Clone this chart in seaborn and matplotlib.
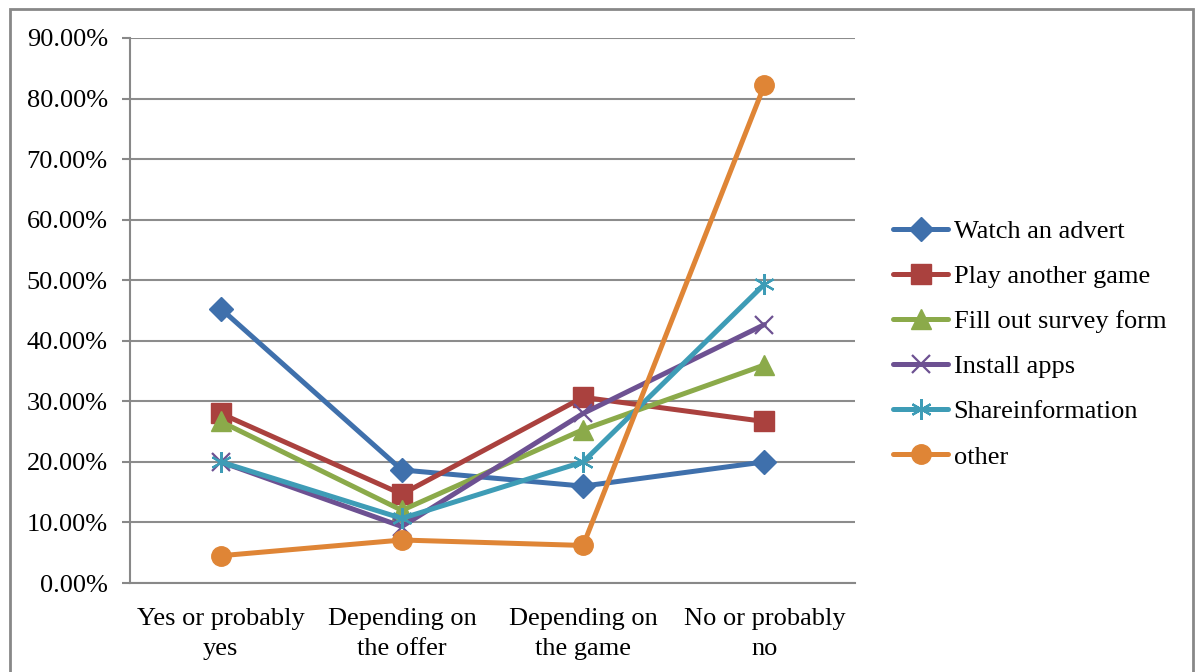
import matplotlib
matplotlib.use("Agg")
import matplotlib.pyplot as plt
import seaborn as sns
import pandas as pd
from matplotlib.patches import Rectangle

categories = ["Yes or probably\nyes", "Depending on\nthe offer", "Depending on\nthe game", "No or probably\nno"]
watch_advert = [45.33, 18.67, 16.00, 20.00]
play_game = [28.00, 14.67, 30.67, 26.67]
survey_form = [26.67, 12.00, 25.33, 36.00]
install_apps = [20.00, 9.33, 28.00, 42.67]
share_info = [20.00, 10.67, 20.00, 49.33]
other = [4.5, 7.1, 6.2, 82.2]
series_names = ["Watch an advert", "Play another game", "Fill out survey form",
                "Install apps", "Shareinformation", "other"]
y_ticks = [0, 10, 20, 30, 40, 50, 60, 70, 80, 90]
y_tick_labels = ["0.00%", "10.00%", "20.00%", "30.00%", "40.00%", "50.00%",
                 "60.00%", "70.00%", "80.00%", "90.00%"]

series_values = [watch_advert, play_game, survey_form, install_apps, share_info, other]
rows = []
for name, vals in zip(series_names, series_values):
    for c, v in zip(categories, vals):
        rows.append({"category": c, "value": v, "series": name})
df = pd.DataFrame(rows)

colors = ["#3F70AC", "#AA413E", "#8BAA4A", "#6D5192", "#3E9CB6", "#DF8536"]
markers = ["D", "s", "^", "x", (6, 2, 0), "o"]
msizes = [12, 14, 14, 13, 15, 14]
mews = [1, 1, 1, 1.6, 1.6, 1]

sns.set_theme(style="white")
plt.rcParams["font.family"] = ["Liberation Serif", "DejaVu Serif"]
plt.rcParams["text.color"] = "black"
plt.rcParams["xtick.color"] = "black"
plt.rcParams["ytick.color"] = "black"

fig = plt.figure(figsize=(11.95, 6.72), dpi=100)
ax = fig.add_axes([130/1195, 1-583/672, (855-130)/1195, (583-38)/672])

for name, col, mk, ms, mew in zip(series_names, colors, markers, msizes, mews):
    sub = df[df["series"] == name]
    sns.lineplot(data=sub, x="category", y="value", ax=ax, color=col,
                 marker=mk, markersize=ms, markeredgecolor=col, markerfacecolor=col,
                 markeredgewidth=mew, linewidth=3.6, label=name, sort=False, zorder=3)

ax.set_xlim(-0.5, 3.5)
ax.set_ylim(0, 90)
ax.set_yticks(y_ticks)
ax.set_yticklabels(y_tick_labels)
ax.set_xticks(range(len(categories)))
ax.set_xticklabels(categories)
ax.set_xticks([-0.5, 0.5, 1.5, 2.5, 3.5], minor=True)
ax.tick_params(axis="x", which="major", length=0, pad=18, labelsize=19, labelcolor="black")
ax.tick_params(axis="x", which="minor", length=6, width=1.5, color="#888888", direction="out")
ax.tick_params(axis="y", which="major", length=6, width=1.5, color="#888888",
               direction="out", pad=10, labelsize=19, left=True, labelcolor="black")
for lab in ax.get_xticklabels():
    lab.set_linespacing(1.45)
ax.set_xlabel("")
ax.set_ylabel("")
ax.grid(axis="y", color="#8C8C8C", linewidth=1.5, zorder=0)
ax.grid(axis="x", visible=False)
ax.set_axisbelow(True)
for s in ["top", "right"]:
    ax.spines[s].set_visible(False)
for s in ["left", "bottom"]:
    ax.spines[s].set_color("#888888")
    ax.spines[s].set_linewidth(1.5)

ax.get_legend().remove()
handles, labels = ax.get_legend_handles_labels()
fig.legend(handles, labels, loc="center left", bbox_to_anchor=(893/1195, 1-344/672),
           frameon=False, fontsize=19, handlelength=2.1, handletextpad=0.2,
           labelspacing=0.82, borderpad=0, borderaxespad=0, labelcolor="black")

fig.patches.append(Rectangle((10/1195, -0.05), (1193-10)/1195, 1-9/672+0.05,
                             transform=fig.transFigure, fill=False,
                             edgecolor="#888888", linewidth=2))

fig.savefig("out.png", dpi=100)
